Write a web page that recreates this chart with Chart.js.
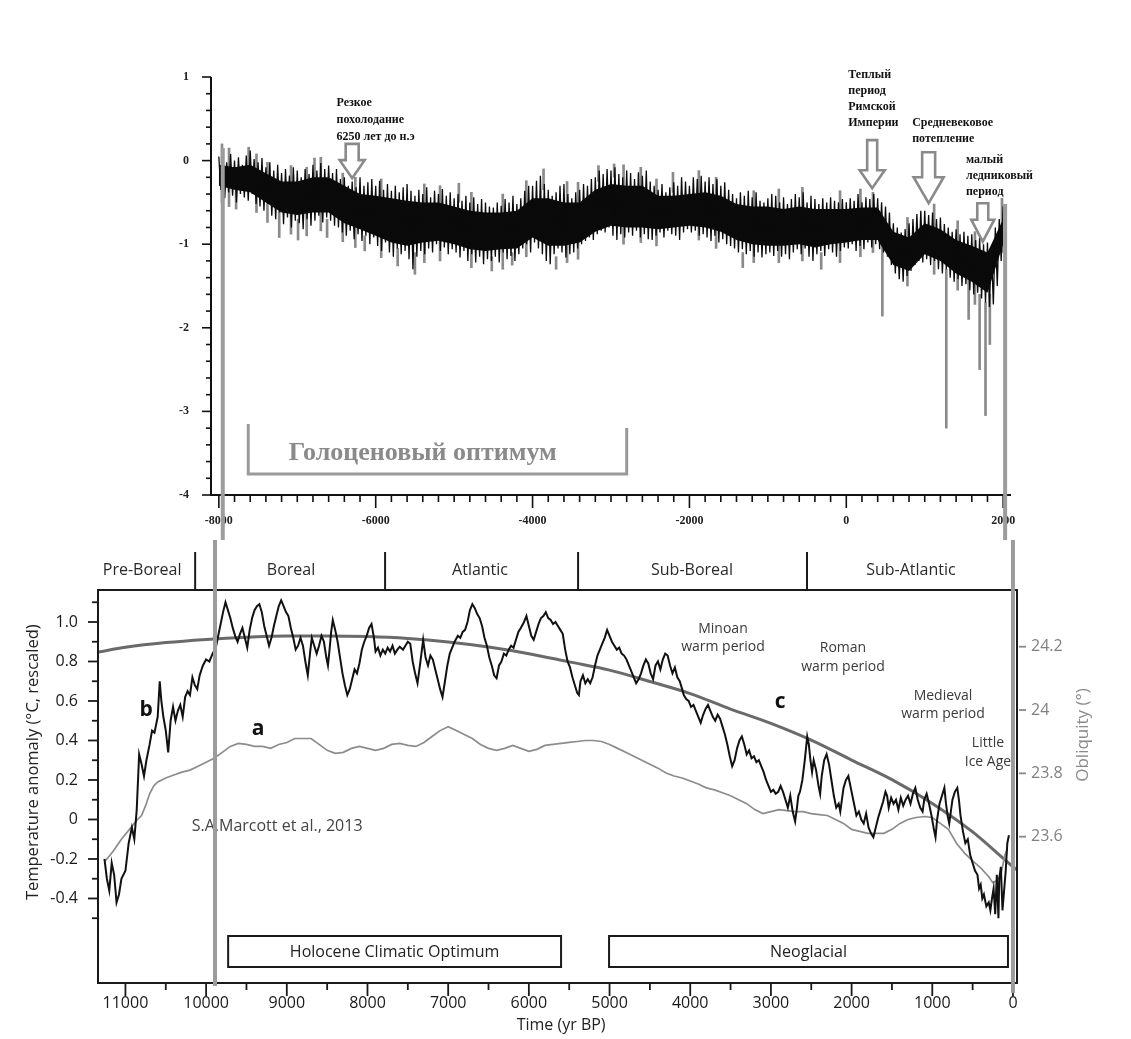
<!DOCTYPE html>
<html><head><meta charset="utf-8">
<script src="https://cdn.jsdelivr.net/npm/chart.js@4.4.1/dist/chart.umd.min.js"></script>
<style>
html,body{margin:0;padding:0;background:#fff;}
#wrap{position:relative;width:1131px;height:1039px;background:#fff;overflow:hidden;}
canvas{position:absolute;left:0;}
#cTop{top:0;} #cBot{top:540px;}
</style></head><body>
<div id="wrap"><canvas id="cTop" width="1131" height="540"></canvas><canvas id="cBot" width="1131" height="499"></canvas></div>
<script>
// ================= TOP PANEL DATA (years BC/AD, anomaly) =================
const topStartYear = -8000;
const topStepYears = 50;
// upper extremes of the noisy record, every 50 years from -8000 to 2000
const topHigh = [
 0.05,0.1,-0.02,0.08,0.0,0.04,-0.05,0.06,0.12,0.02,
 -0.02,0.03,-0.08,-0.02,-0.12,-0.05,-0.15,-0.1,-0.18,-0.08,
 -0.12,-0.2,-0.1,-0.16,-0.05,-0.12,-0.03,-0.1,-0.06,-0.15,
 -0.1,-0.22,-0.2,-0.3,-0.25,-0.32,-0.2,-0.3,-0.26,-0.22,
 -0.3,-0.24,-0.35,-0.28,-0.36,-0.3,-0.38,-0.32,-0.28,-0.36,
 -0.42,-0.35,-0.4,-0.32,-0.44,-0.36,-0.4,-0.34,-0.42,-0.38,
 -0.45,-0.4,-0.48,-0.42,-0.5,-0.44,-0.52,-0.46,-0.5,-0.55,
 -0.56,-0.5,-0.54,-0.46,-0.5,-0.42,-0.52,-0.45,-0.36,-0.3,
 -0.3,-0.24,-0.18,-0.28,-0.35,-0.42,-0.38,-0.3,-0.28,-0.4,
 -0.45,-0.38,-0.35,-0.28,-0.3,-0.22,-0.2,-0.12,-0.16,-0.1,
 -0.12,-0.08,-0.16,-0.2,-0.12,-0.15,-0.22,-0.14,-0.18,-0.12,
 -0.25,-0.3,-0.35,-0.28,-0.38,-0.32,-0.26,-0.3,-0.2,-0.25,
 -0.3,-0.2,-0.22,-0.18,-0.25,-0.2,-0.28,-0.22,-0.3,-0.26,
 -0.35,-0.4,-0.45,-0.38,-0.42,-0.36,-0.44,-0.38,-0.48,-0.5,
 -0.45,-0.4,-0.42,-0.5,-0.44,-0.52,-0.46,-0.4,-0.44,-0.38,
 -0.5,-0.42,-0.46,-0.52,-0.45,-0.5,-0.44,-0.48,-0.5,-0.46,
 -0.5,-0.45,-0.48,-0.4,-0.5,-0.44,-0.46,-0.4,-0.45,-0.5,
 -0.55,-0.62,-0.75,-0.8,-0.86,-0.82,-0.75,-0.7,-0.64,-0.6,
 -0.6,-0.65,-0.62,-0.7,-0.68,-0.76,-0.8,-0.85,-0.82,-0.88,
 -0.85,-0.9,-0.88,-0.95,-0.92,-1.0,-0.98,-1.05,-0.8,-0.7,
 -0.55
];
// lower extremes, every 50 years from -7975 to 1975
const topLow = [
 -0.35,-0.45,-0.38,-0.42,-0.5,-0.4,-0.44,-0.48,-0.4,-0.52,
 -0.55,-0.6,-0.52,-0.66,-0.7,-0.62,-0.76,-0.68,-0.8,-0.72,
 -0.75,-0.82,-0.7,-0.78,-0.72,-0.66,-0.74,-0.68,-0.72,-0.78,
 -0.8,-0.86,-0.9,-0.84,-0.94,-0.88,-0.96,-0.9,-1.0,-0.92,
 -1.02,-1.08,-0.98,-1.1,-1.15,-1.05,-1.12,-1.08,-1.18,-1.3,
 -1.15,-1.08,-1.12,-1.05,-1.1,-1.0,-1.08,-1.04,-1.12,-1.06,
 -1.1,-1.16,-1.08,-1.2,-1.12,-1.22,-1.15,-1.24,-1.18,-1.2,
 -1.15,-1.22,-1.1,-1.18,-1.14,-1.2,-1.12,-1.05,-1.0,-1.1,
 -0.98,-1.05,-1.12,-1.2,-1.24,-1.12,-1.05,-1.1,-1.16,-1.12,
 -1.1,-1.05,-1.0,-0.96,-0.92,-0.95,-0.88,-0.84,-0.86,-0.8,
 -0.9,-0.95,-0.88,-0.92,-0.86,-0.9,-0.84,-0.92,-0.88,-0.94,
 -0.95,-0.9,-0.86,-0.92,-0.84,-0.88,-0.9,-0.95,-0.86,-0.82,
 -0.86,-0.84,-0.9,-0.88,-0.92,-0.96,-0.9,-0.98,-0.94,-1.0,
 -1.02,-1.05,-1.1,-1.06,-1.12,-1.08,-1.15,-1.1,-1.16,-1.12,
 -1.1,-1.14,-1.08,-1.15,-1.12,-1.18,-1.1,-1.06,-1.12,-1.05,
 -1.15,-1.2,-1.12,-1.08,-1.14,-1.06,-1.1,-1.15,-1.08,-1.04,
 -1.05,-1.0,-1.08,-1.02,-1.06,-0.98,-1.04,-1.0,-1.06,-1.1,
 -1.15,-1.25,-1.35,-1.42,-1.45,-1.38,-1.32,-1.25,-1.2,-1.22,
 -1.18,-1.25,-1.2,-1.3,-1.35,-1.3,-1.4,-1.45,-1.42,-1.5,
 -1.48,-1.55,-1.6,-1.58,-1.65,-1.7,-1.75,-1.72,-1.5,-1.2
];
// dense core of the record, every 200 years from -8000 to 2000
const coreStep = 200;
const coreHigh = [
 -0.05,-0.08,-0.05,-0.15,-0.25,-0.25,-0.2,-0.2,-0.3,-0.4,
 -0.42,-0.45,-0.48,-0.5,-0.5,-0.55,-0.6,-0.62,-0.62,-0.6,
 -0.45,-0.45,-0.5,-0.5,-0.35,-0.28,-0.3,-0.3,-0.42,-0.42,
 -0.4,-0.38,-0.42,-0.52,-0.55,-0.55,-0.58,-0.55,-0.58,-0.58,
 -0.58,-0.56,-0.56,-0.85,-0.92,-0.75,-0.82,-0.95,-1.02,-1.1,
 -0.7
];
const coreLow = [
 -0.3,-0.35,-0.38,-0.5,-0.62,-0.65,-0.62,-0.62,-0.75,-0.82,
 -0.9,-0.98,-1.02,-0.98,-0.96,-1.0,-1.06,-1.08,-1.06,-1.05,
 -0.92,-1.02,-1.02,-0.98,-0.85,-0.78,-0.8,-0.8,-0.82,-0.8,
 -0.78,-0.8,-0.85,-0.95,-1.0,-1.02,-1.02,-1.0,-1.04,-1.0,
 -0.98,-0.95,-0.95,-1.25,-1.32,-1.12,-1.2,-1.35,-1.45,-1.58,
 -1.0
];
// grey spikes poking out of the band: [year, low, high]
const topSpikes = [
 [-7960,-0.5,0.2],[-7870,-0.55,0.15],[-7780,-0.58,-0.3],[-7620,-0.3,0.16],[-7520,-0.62,0.08],
 [-7380,-0.74,-0.02],[-7230,-0.92,-0.6],[-7080,-0.88,-0.06],[-6990,-0.95,-0.7],[-6880,-0.9,-0.08],
 [-6780,-0.3,0.03],[-6700,-0.84,0.04],[-6620,-0.92,-0.7],[-6420,-0.97,-0.15],[-6260,-1.04,-0.2],
 [-6140,-1.08,-0.9],[-5930,-1.16,-0.22],[-5720,-1.26,-1.05],[-5500,-1.36,-1.1],[-5380,-1.22,-0.28],
 [-5180,-1.2,-0.3],[-4940,-0.5,-0.27],[-4780,-1.28,-0.38],[-4520,-1.32,-1.15],[-4380,-1.3,-0.4],
 [-4260,-1.25,-1.1],[-4080,-1.15,-0.24],[-3860,-0.35,-0.1],[-3700,-1.3,-1.15],[-3560,-1.22,-0.25],
 [-3420,-1.18,-0.26],[-3160,-0.25,-0.06],[-2960,-0.2,-0.04],[-2840,-1.0,-0.05],[-2620,-0.98,-0.08],
 [-2420,-1.02,-0.22],[-2210,-0.38,-0.14],[-1880,-0.95,-0.12],[-1660,-1.05,-0.2],[-1320,-1.28,-1.1],
 [-1180,-1.22,-0.36],[-860,-1.22,-0.34],[-560,-1.2,-0.32],[-320,-1.3,-1.1],[-80,-1.22,-0.36],
 [180,-1.15,-0.34],[340,-1.1,-0.38],[460,-1.86,-1.0],[780,-1.5,-0.68],[1120,-1.36,-0.52],
 [1275,-3.2,-1.3],[1420,-1.55,-0.72],[1560,-1.9,-1.4],[1640,-1.72,-0.85],[1700,-2.5,-1.6],
 [1775,-3.05,-1.7],[1830,-2.2,-1.6],[1985,-1.1,-0.45]
];
const topXLabels = [-8000,-6000,-4000,-2000,0,2000];
const topYLabels = [1,0,-1,-2,-3,-4];

// ================= BOTTOM PANEL DATA (yr BP) =================
// curve b : [yr BP, °C rescaled]
const curveB = [
 [11260,-0.20],[11230,-0.30],[11200,-0.36],[11170,-0.22],[11140,-0.28],[11110,-0.42],[11080,-0.38],[11050,-0.30],[11000,-0.26],[10960,-0.12],
 [10920,-0.04],[10890,-0.10],[10860,0.05],[10830,0.33],[10800,0.28],[10770,0.22],[10740,0.30],[10700,0.38],[10670,0.45],[10640,0.44],
 [10600,0.52],[10575,0.70],[10555,0.60],[10530,0.52],[10500,0.45],[10470,0.34],[10440,0.50],[10410,0.57],[10380,0.50],[10350,0.55],
 [10320,0.58],[10290,0.52],[10260,0.62],[10230,0.65],[10200,0.63],[10170,0.72],[10140,0.68],[10110,0.66],[10080,0.73],[10040,0.78],
 [10000,0.81],[9960,0.80],[9920,0.84],[9880,0.87],[9850,0.93],[9820,0.99],[9790,1.05],[9760,1.10],[9730,1.06],[9700,1.02],
 [9670,0.97],[9640,0.93],[9610,0.90],[9580,0.94],[9550,0.97],[9520,0.92],[9490,0.87],[9460,0.96],[9430,1.02],[9400,1.06],
 [9370,1.08],[9340,1.09],[9310,1.05],[9280,0.98],[9250,0.93],[9220,0.88],[9190,0.92],[9160,0.98],[9130,1.03],[9100,1.08],
 [9070,1.11],[9040,1.08],[9010,1.05],[8980,1.03],[8950,0.97],[8920,0.92],[8890,0.86],[8860,0.88],[8830,0.92],[8800,0.88],
 [8770,0.80],[8740,0.73],[8710,0.85],[8690,0.92],[8660,0.88],[8630,0.84],[8600,0.88],[8570,0.93],[8540,0.90],[8510,0.82],
 [8490,0.78],[8470,0.86],[8450,0.95],[8430,1.01],[8400,0.96],[8370,0.90],[8340,0.82],[8310,0.74],[8280,0.68],[8250,0.63],
 [8220,0.66],[8190,0.71],[8160,0.76],[8130,0.74],[8100,0.79],[8070,0.86],[8040,0.90],[8010,0.93],[7980,0.97],[7950,0.99],
 [7920,0.92],[7900,0.85],[7870,0.87],[7840,0.83],[7810,0.86],[7780,0.84],[7750,0.87],[7720,0.85],[7690,0.88],[7660,0.84],
 [7630,0.86],[7600,0.875],[7560,0.86],[7530,0.88],[7500,0.90],[7470,0.89],[7440,0.80],[7410,0.74],[7380,0.69],[7350,0.78],
 [7310,0.91],[7280,0.82],[7250,0.78],[7220,0.83],[7190,0.81],[7160,0.76],[7130,0.71],[7100,0.66],[7070,0.62],[7040,0.70],
 [7010,0.78],[6980,0.84],[6950,0.87],[6920,0.90],[6880,0.93],[6850,0.92],[6820,0.95],[6790,0.96],[6760,1.00],[6730,1.06],
 [6700,1.09],[6670,1.07],[6640,1.04],[6610,1.02],[6580,0.98],[6550,0.92],[6520,0.88],[6490,0.82],[6460,0.78],[6430,0.73],
 [6400,0.715],[6370,0.78],[6340,0.80],[6310,0.84],[6280,0.83],[6250,0.86],[6220,0.88],[6190,0.87],[6160,0.91],[6130,0.95],
 [6100,0.97],[6060,1.00],[6030,1.03],[6000,0.98],[5970,0.93],[5940,0.91],[5910,0.95],[5880,0.99],[5850,1.02],[5820,1.03],
 [5790,1.05],[5760,1.02],[5730,1.01],[5700,0.99],[5670,1.00],[5640,0.98],[5610,0.96],[5580,0.94],[5550,0.86],[5520,0.80],
 [5490,0.77],[5460,0.72],[5430,0.68],[5400,0.64],[5380,0.63],[5360,0.70],[5330,0.73],[5300,0.69],[5270,0.71],[5240,0.69],
 [5210,0.72],[5180,0.78],[5150,0.83],[5120,0.86],[5090,0.89],[5060,0.92],[5030,0.96],[5000,0.93],[4970,0.90],[4940,0.88],
 [4910,0.86],[4880,0.87],[4850,0.84],[4820,0.83],[4790,0.81],[4760,0.78],[4730,0.75],[4700,0.72],[4670,0.69],[4640,0.71],
 [4610,0.74],[4580,0.78],[4550,0.81],[4520,0.79],[4490,0.74],[4460,0.71],[4430,0.78],[4400,0.80],[4370,0.76],[4340,0.81],
 [4310,0.84],[4280,0.83],[4250,0.78],[4220,0.74],[4190,0.77],[4160,0.72],[4130,0.70],[4100,0.66],[4080,0.63],[4050,0.61],
 [4020,0.60],[3990,0.57],[3960,0.58],[3930,0.55],[3900,0.52],[3870,0.49],[3840,0.53],[3810,0.56],[3780,0.58],[3750,0.55],
 [3720,0.52],[3690,0.50],[3660,0.53],[3630,0.51],[3600,0.47],[3570,0.43],[3540,0.38],[3510,0.32],[3480,0.27],[3450,0.30],
 [3420,0.36],[3390,0.40],[3360,0.42],[3330,0.38],[3300,0.33],[3270,0.35],[3240,0.31],[3210,0.32],[3180,0.29],[3150,0.30],
 [3120,0.27],[3090,0.24],[3060,0.20],[3030,0.17],[3000,0.14],[2970,0.15],[2940,0.13],[2910,0.14],[2880,0.17],[2850,0.14],
 [2820,0.10],[2790,0.06],[2760,0.12],[2730,0.04],[2700,-0.01],[2680,0.05],[2660,0.12],[2640,0.14],[2610,0.20],[2580,0.30],
 [2550,0.42],[2530,0.38],[2510,0.30],[2490,0.24],[2470,0.30],[2440,0.25],[2410,0.17],[2390,0.13],[2370,0.22],[2340,0.30],
 [2310,0.33],[2280,0.28],[2250,0.20],[2220,0.12],[2190,0.06],[2160,0.08],[2140,0.04],[2120,0.10],[2100,0.16],[2070,0.20],
 [2040,0.22],[2020,0.18],[2000,0.14],[1970,0.08],[1940,0.02],[1910,0.04],[1880,0.00],[1850,-0.02],[1820,0.03],[1790,-0.04],
 [1760,-0.07],[1730,-0.09],[1700,-0.04],[1670,0.01],[1640,0.05],[1610,0.09],[1580,0.14],[1560,0.12],[1540,0.06],[1510,0.11],
 [1480,0.08],[1450,0.10],[1420,0.05],[1390,0.11],[1360,0.07],[1330,0.10],[1300,0.12],[1270,0.08],[1240,0.13],[1210,0.16],
 [1180,0.10],[1150,0.06],[1120,0.04],[1100,0.10],[1070,0.13],[1040,0.08],[1010,0.02],[980,-0.05],[960,-0.09],[940,0.00],
 [910,0.08],[880,0.12],[850,0.16],[830,0.08],[810,0.02],[790,-0.02],[770,0.04],[750,0.10],[720,0.14],[690,0.16],
 [670,0.10],[650,0.02],[620,-0.06],[590,-0.12],[560,-0.10],[530,-0.18],[500,-0.22],[470,-0.26],[440,-0.28],[420,-0.35],
 [400,-0.33],[380,-0.40],[360,-0.38],[330,-0.44],[300,-0.42],[280,-0.46],[260,-0.40],[240,-0.35],[220,-0.48],[200,-0.28],
 [180,-0.50],[170,-0.30],[150,-0.24],[130,-0.46],[110,-0.36],[90,-0.26],[70,-0.12],[50,-0.08]
];
// curve a (S.A. Marcott et al., 2013) : [yr BP, °C rescaled]
const curveA = [
 [11250,-0.21],[11150,-0.16],[11050,-0.10],[10950,-0.05],[10850,0.0],[10800,0.02],[10750,0.07],[10700,0.13],[10650,0.17],[10600,0.19],
 [10500,0.21],[10400,0.225],[10300,0.24],[10200,0.25],[10100,0.27],[10000,0.29],[9900,0.31],[9800,0.34],[9700,0.37],[9600,0.385],
 [9500,0.38],[9400,0.37],[9300,0.37],[9200,0.36],[9100,0.38],[9000,0.39],[8900,0.41],[8800,0.41],[8700,0.41],[8600,0.38],
 [8500,0.35],[8400,0.335],[8300,0.34],[8200,0.36],[8100,0.37],[8000,0.36],[7900,0.35],[7800,0.36],[7700,0.38],[7600,0.385],
 [7500,0.375],[7400,0.37],[7300,0.39],[7200,0.42],[7100,0.45],[7000,0.47],[6900,0.45],[6800,0.43],[6700,0.41],[6600,0.38],
 [6500,0.36],[6400,0.35],[6300,0.36],[6200,0.375],[6100,0.36],[6000,0.345],[5900,0.355],[5800,0.375],[5700,0.38],[5600,0.385],
 [5500,0.39],[5400,0.395],[5300,0.40],[5200,0.40],[5100,0.395],[5000,0.38],[4900,0.36],[4800,0.34],[4700,0.32],[4600,0.30],
 [4500,0.28],[4400,0.26],[4300,0.235],[4200,0.22],[4100,0.21],[4000,0.195],[3900,0.18],[3800,0.16],[3700,0.15],[3600,0.135],
 [3500,0.12],[3400,0.10],[3300,0.08],[3200,0.05],[3100,0.03],[3000,0.04],[2900,0.05],[2800,0.045],[2700,0.04],[2600,0.04],
 [2500,0.03],[2400,0.025],[2300,0.02],[2200,0.0],[2100,-0.02],[2000,-0.05],[1900,-0.06],[1800,-0.07],[1700,-0.07],[1600,-0.07],
 [1500,-0.05],[1400,-0.02],[1300,0.0],[1200,0.01],[1100,0.015],[1000,0.01],[900,-0.02],[800,-0.05],[700,-0.12],[600,-0.17],
 [500,-0.21],[400,-0.245],[300,-0.29],[250,-0.32],[200,-0.31],[150,-0.28],[100,-0.18],[70,-0.15]
];
// obliquity : [yr BP, degrees]
const obliquity = [
 [11340,24.183],[11000,24.198],[10500,24.213],[10000,24.223],[9500,24.23],[9000,24.234],[8500,24.234],[8000,24.232],
 [7500,24.226],[7000,24.215],[6500,24.199],[6000,24.178],[5500,24.152],[5000,24.126],[4500,24.09],[4000,24.052],
 [3500,24.003],[3000,23.958],[2500,23.905],[2000,23.842],[1500,23.78],[1000,23.705],[500,23.615],[0,23.505],[-50,23.495]
];
const botXLabels = [11000,10000,9000,8000,7000,6000,5000,4000,3000,2000,1000,0];
const botYLabels = [1.0,0.8,0.6,0.4,0.2,0,-0.2,-0.4];
const oblLabels = [24.2,24.0,23.8,23.6];
const periods = [ // [label, centre yr BP]
 ['Pre-Boreal',10793],['Boreal',8947],['Atlantic',6605],['Sub-Boreal',3978],['Sub-Atlantic',1264]
];
const periodBounds = [10136,7782,5390,2553];

// ================= helpers =================
const SERIF = "'Liberation Serif','DejaVu Serif',serif";
const SANS = "'Open Sans','Noto Sans',sans-serif";
function near(a,b){return Math.abs(a-b)<1e-6;}
function isLabel(list,v){return list.some(l=>near(l,v));}
function fixW(w){return s=>{s.width=w;};}
function fixH(h){return s=>{s.height=h;};}

function downArrow(ctx,cx,yt,yb,sw,hw,hh){
  ctx.beginPath();
  ctx.moveTo(cx-sw/2,yt);ctx.lineTo(cx+sw/2,yt);ctx.lineTo(cx+sw/2,yb-hh);ctx.lineTo(cx+hw/2,yb-hh);
  ctx.lineTo(cx,yb);ctx.lineTo(cx-hw/2,yb-hh);ctx.lineTo(cx-sw/2,yb-hh);ctx.closePath();ctx.stroke();
}
function lines(ctx,arr,x,ys){arr.forEach((t,i)=>ctx.fillText(t,x,ys[i]));}

// ================= TOP CHART =================
const topZigzag = [];
for (let i=0;i<topHigh.length;i++){
  topZigzag.push({x:topStartYear+i*topStepYears,y:topHigh[i]});
  if (i<topLow.length) topZigzag.push({x:topStartYear+i*topStepYears+topStepYears/2,y:topLow[i]});
}
const coreHighPts = coreHigh.map((v,i)=>({x:topStartYear+i*coreStep,y:v}));
const coreLowPts = coreLow.map((v,i)=>({x:topStartYear+i*coreStep,y:v}));
const topXTicks=[]; for(let v=-8000;v<=2000;v+=200) topXTicks.push(v);
const topYTicks=[]; for(let k=-20;k<=5;k++) topYTicks.push(k/5);

const topDecor = {
  id:'topDecor',
  afterDraw(chart){
    const {ctx,chartArea:a,scales:{x,y}}=chart;
    ctx.save();
    ctx.strokeStyle='#111';ctx.lineWidth=2;
    ctx.beginPath();ctx.moveTo(a.left,a.top);ctx.lineTo(a.left,a.bottom);ctx.lineTo(a.right,a.bottom);ctx.stroke();
    ctx.lineWidth=1.6;
    y.ticks.forEach(t=>{const p=y.getPixelForValue(t.value);const L=isLabel(topYLabels,t.value)?9:5;
      ctx.beginPath();ctx.moveTo(a.left-L,p);ctx.lineTo(a.left,p);ctx.stroke();});
    x.ticks.forEach(t=>{const p=x.getPixelForValue(t.value);const L=isLabel(topXLabels,t.value)?13:7;
      ctx.beginPath();ctx.moveTo(p,a.bottom);ctx.lineTo(p,a.bottom+L);ctx.stroke();});
    // annotations
    ctx.fillStyle='#111';ctx.font='bold 12px '+SERIF;ctx.textBaseline='middle';ctx.textAlign='left';
    lines(ctx,['Резкое','похолодание','6250 лет до н.э'],x.getPixelForValue(-6500),[0.689,0.486,0.282].map(v=>y.getPixelForValue(v)));
    lines(ctx,['Теплый','период','Римской','Империи'],x.getPixelForValue(25),[1.024,0.833,0.641,0.45].map(v=>y.getPixelForValue(v)));
    lines(ctx,['Средневековое','потепление'],x.getPixelForValue(840),[0.45,0.258].map(v=>y.getPixelForValue(v)));
    lines(ctx,['малый','ледниковый','период'],x.getPixelForValue(1525),[0.007,-0.184,-0.376].map(v=>y.getPixelForValue(v)));
    ctx.strokeStyle='#8a8a8a';ctx.lineWidth=2.6;ctx.lineJoin='miter';
    downArrow(ctx,x.getPixelForValue(-6300),y.getPixelForValue(0.2),y.getPixelForValue(-0.21),13,25,18);
    downArrow(ctx,x.getPixelForValue(330),y.getPixelForValue(0.245),y.getPixelForValue(-0.33),10,25,18);
    downArrow(ctx,x.getPixelForValue(1050),y.getPixelForValue(0.10),y.getPixelForValue(-0.51),13,30,26);
    downArrow(ctx,x.getPixelForValue(1740),y.getPixelForValue(-0.51),y.getPixelForValue(-0.97),11,23,22);
    // Holocene optimum bracket
    ctx.strokeStyle='#9a9a9a';ctx.lineWidth=3;
    ctx.beginPath();ctx.moveTo(x.getPixelForValue(-7625),y.getPixelForValue(-3.15));
    ctx.lineTo(x.getPixelForValue(-7625),y.getPixelForValue(-3.75));
    ctx.lineTo(x.getPixelForValue(-2800),y.getPixelForValue(-3.75));
    ctx.lineTo(x.getPixelForValue(-2800),y.getPixelForValue(-3.2));ctx.stroke();
    ctx.fillStyle='#8a8a8a';ctx.font='bold 26px '+SERIF;ctx.textAlign='center';
    ctx.fillText('Голоценовый оптимум',x.getPixelForValue(-5400),y.getPixelForValue(-3.5));
    // grey alignment lines
    ctx.strokeStyle='#9c9c9c';ctx.lineWidth=4;
    ctx.beginPath();ctx.moveTo(x.getPixelForValue(-7950),y.getPixelForValue(0.15));ctx.lineTo(x.getPixelForValue(-7950),chart.height);ctx.stroke();
    ctx.beginPath();ctx.moveTo(x.getPixelForValue(2025),y.getPixelForValue(-0.52));ctx.lineTo(x.getPixelForValue(2025),chart.height);ctx.stroke();
    ctx.restore();
  }
};

new Chart(document.getElementById('cTop'),{
  type:'line',
  data:{datasets:[
    {type:'line',data:topZigzag,borderColor:'#0a0a0a',borderWidth:1.3,pointRadius:0,tension:0,borderJoinStyle:'bevel',order:0},
    {type:'line',data:coreHighPts,borderWidth:0,borderColor:'rgba(0,0,0,0)',pointRadius:0,tension:0,fill:'+1',backgroundColor:'#0a0a0a',order:1},
    {type:'line',data:coreLowPts,borderWidth:0,borderColor:'rgba(0,0,0,0)',pointRadius:0,tension:0,fill:false,order:1},
    {type:'bar',data:topSpikes.map(s=>({x:s[0],y:[s[1],s[2]]})),backgroundColor:'#8a8a8a',barThickness:2,grouped:false,order:2}
  ]},
  options:{
    responsive:false,animation:false,events:[],
    layout:{padding:{top:77,right:120,bottom:0,left:0}},
    plugins:{legend:{display:false},tooltip:{enabled:false}},
    scales:{
      x:{type:'linear',min:-8000,max:2000,
         afterBuildTicks:s=>{s.ticks=topXTicks.map(v=>({value:v}));},
         ticks:{autoSkip:false,maxRotation:0,padding:19,color:'#222',font:{family:SERIF,size:12,weight:'bold'},
           callback:v=>isLabel(topXLabels,v)?String(v):''},
         grid:{display:false,drawTicks:false},border:{display:false},afterFit:fixH(45)},
      y:{type:'linear',min:-4,max:1,
         afterBuildTicks:s=>{s.ticks=topYTicks.map(v=>({value:v}));},
         ticks:{autoSkip:false,padding:22,color:'#222',font:{family:SERIF,size:12,weight:'bold'},
           callback:v=>isLabel(topYLabels,v)?String(Math.round(v)):''},
         grid:{display:false,drawTicks:false},border:{display:false},afterFit:fixW(211)}
    }
  },
  plugins:[topDecor]
});

// ================= BOTTOM CHART =================
const botXTicks=[]; for(let v=0;v<=11000;v+=500) botXTicks.push(v);
const botYTicks=[]; for(let k=-5;k<=11;k++) botYTicks.push(k/10);

const botDecor = {
  id:'botDecor',
  afterDraw(chart){
    const {ctx,chartArea:a,scales:{x,y,y2}}=chart;
    const X=v=>x.getPixelForValue(v), Y=v=>y.getPixelForValue(v);
    ctx.save();
    ctx.strokeStyle='#1a1a1a';ctx.lineWidth=2;
    ctx.strokeRect(a.left,a.top,a.right-a.left,a.bottom-a.top);
    ctx.lineWidth=1.8;
    y.ticks.forEach(t=>{const p=Y(t.value);const L=isLabel(botYLabels,t.value)?10:6;
      ctx.beginPath();ctx.moveTo(a.left-L,p);ctx.lineTo(a.left,p);ctx.stroke();});
    x.ticks.forEach(t=>{const p=X(t.value);const L=isLabel(botXLabels,t.value)?13:7;
      ctx.beginPath();ctx.moveTo(p,a.bottom);ctx.lineTo(p,a.bottom+L);ctx.stroke();});
    ctx.strokeStyle='#888';ctx.lineWidth=1.8;
    y2.ticks.forEach(t=>{const p=y2.getPixelForValue(t.value);
      ctx.beginPath();ctx.moveTo(a.right+2,p);ctx.lineTo(a.right+9,p);ctx.stroke();});
    // period band
    ctx.strokeStyle='#1a1a1a';ctx.lineWidth=2;
    periodBounds.forEach(b=>{ctx.beginPath();ctx.moveTo(X(b),a.top-38);ctx.lineTo(X(b),a.top);ctx.stroke();});
    ctx.fillStyle='#2a2a2a';ctx.font='16px '+SANS;ctx.textAlign='center';ctx.textBaseline='middle';
    periods.forEach(p=>ctx.fillText(p[0],X(p[1]),a.top-20));
    // boxes
    const box=(b0,b1,txt)=>{const x0=X(b0),x1=X(b1),y0=Y(-0.59),y1=Y(-0.747);
      ctx.fillStyle='#fff';ctx.fillRect(x0,y0,x1-x0,y1-y0);
      ctx.strokeStyle='#1a1a1a';ctx.lineWidth=2;ctx.strokeRect(x0,y0,x1-x0,y1-y0);
      ctx.fillStyle='#222';ctx.font='16px '+SANS;ctx.fillText(txt,(x0+x1)/2,(y0+y1)/2+1);};
    box(9727,5601,'Holocene Climatic Optimum');
    box(5006,62,'Neoglacial');
    // labels
    ctx.fillStyle='#111';ctx.font='bold 21px '+SANS;
    ctx.fillText('b',X(10743),Y(0.554));ctx.fillText('a',X(9356),Y(0.458));ctx.fillText('c',X(2887),Y(0.595));
    ctx.fillStyle='#444';ctx.font='16px '+SANS;
    ctx.fillText('S.A.Marcott et al., 2013',X(9120),Y(-0.033));
    ctx.font='14px '+SANS;ctx.fillStyle='#3a3a3a';
    ctx.fillText('Minoan',X(3594),Y(0.965));ctx.fillText('warm period',X(3594),Y(0.873));
    ctx.fillText('Roman',X(2107),Y(0.868));ctx.fillText('warm period',X(2107),Y(0.772));
    ctx.fillText('Medieval',X(867),Y(0.625));ctx.fillText('warm period',X(867),Y(0.534));
    ctx.fillText('Little',X(310),Y(0.387));ctx.fillText('Ice Age',X(310),Y(0.291));
    // axis titles
    ctx.fillStyle='#222';ctx.font='16px '+SANS;
    ctx.fillText('Time (yr BP)',X(5600),a.bottom+42);
    ctx.save();ctx.translate(a.left-65,Y(0.29));ctx.rotate(-Math.PI/2);
    ctx.font='16.5px '+SANS;ctx.fillText('Temperature anomaly (°C, rescaled)',0,0);ctx.restore();
    ctx.save();ctx.translate(a.right+66,Y(0.428));ctx.rotate(-Math.PI/2);
    ctx.fillStyle='#8a8a8a';ctx.font='17px '+SANS;ctx.fillText('Obliquity (°)',0,0);ctx.restore();
    // grey alignment lines
    ctx.strokeStyle='#9c9c9c';ctx.lineWidth=4;
    ctx.beginPath();ctx.moveTo(X(9890),0);ctx.lineTo(X(9890),a.bottom+3);ctx.stroke();
    ctx.beginPath();ctx.moveTo(X(0),0);ctx.lineTo(X(0),a.bottom+10);ctx.stroke();
    ctx.restore();
  }
};

new Chart(document.getElementById('cBot'),{
  type:'line',
  data:{datasets:[
    {data:curveB.map(p=>({x:p[0],y:p[1]})),borderColor:'#111',borderWidth:2,pointRadius:0,tension:0,yAxisID:'y',order:0},
    {data:curveA.map(p=>({x:p[0],y:p[1]})),borderColor:'#8c8c8c',borderWidth:1.7,pointRadius:0,tension:0,yAxisID:'y',order:1},
    {data:obliquity.map(p=>({x:p[0],y:p[1]})),borderColor:'#6a6a6a',borderWidth:3,pointRadius:0,cubicInterpolationMode:'monotone',yAxisID:'y2',order:2}
  ]},
  options:{
    responsive:false,animation:false,events:[],
    layout:{padding:{top:50,right:0,bottom:0,left:0}},
    plugins:{legend:{display:false},tooltip:{enabled:false}},
    scales:{
      x:{type:'linear',reverse:true,min:-50,max:11340,
         afterBuildTicks:s=>{s.ticks=botXTicks.map(v=>({value:v}));},
         ticks:{autoSkip:false,maxRotation:0,padding:11,color:'#1a1a1a',font:{family:SANS,size:16},
           callback:v=>isLabel(botXLabels,v)?String(v):''},
         grid:{display:false,drawTicks:false},border:{display:false},afterFit:fixH(56)},
      y:{type:'linear',position:'left',min:-0.828,max:1.162,
         afterBuildTicks:s=>{s.ticks=botYTicks.map(v=>({value:v}));},
         ticks:{autoSkip:false,padding:20,color:'#1a1a1a',font:{family:SANS,size:16},
           callback:v=>isLabel(botYLabels,v)?(near(v,0)?'0':v.toFixed(1)):''},
         grid:{display:false,drawTicks:false},border:{display:false},afterFit:fixW(98)},
      y2:{type:'linear',position:'right',min:23.138,max:24.379,
         afterBuildTicks:s=>{s.ticks=oblLabels.map(v=>({value:v}));},
         ticks:{autoSkip:false,padding:14,color:'#808080',font:{family:SANS,size:16},
           callback:v=>near(v,24)?'24':String(v)},
         grid:{display:false,drawTicks:false},border:{display:false},afterFit:fixW(114)}
    }
  },
  plugins:[botDecor]
});
</script></body></html>
